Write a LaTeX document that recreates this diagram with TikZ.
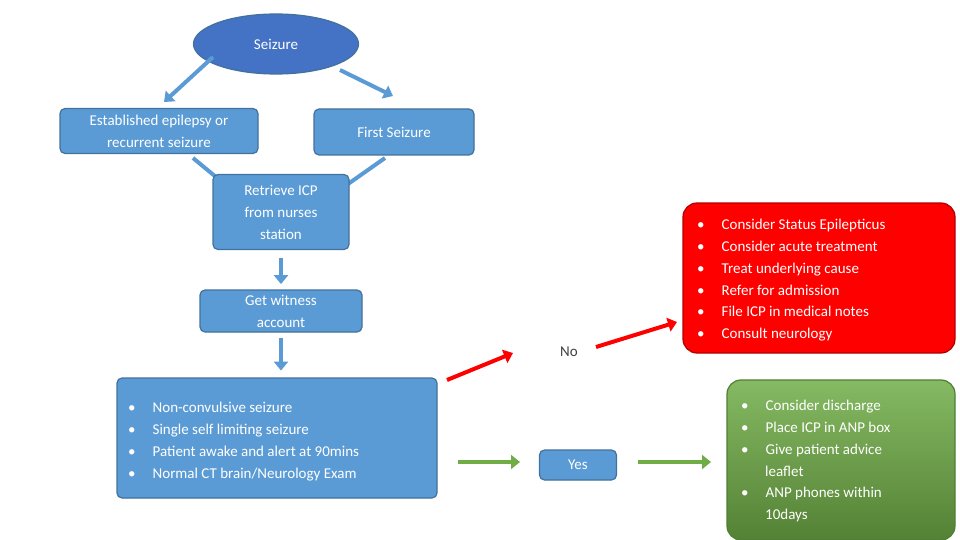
\documentclass[tikz,border=0pt]{standalone}
\usepackage{fontspec}
\setmainfont{Carlito}
\usetikzlibrary{shapes.geometric,arrows.meta}
\definecolor{bl}{HTML}{5B9BD5}
\definecolor{bld}{HTML}{41719C}
\definecolor{dk}{HTML}{4472C4}
\definecolor{gr}{HTML}{70AD47}
\definecolor{grd}{HTML}{507E32}
\begin{document}
\begin{tikzpicture}[x=1pt,y=-1pt,
 box/.style={draw=bld,line width=1.2pt,fill=bl,rounded corners=5pt,text=white,align=center,font=\fontsize{15}{22}\selectfont,inner sep=0pt},
 barr/.style={draw=bl,line width=4pt,-{Triangle[length=9pt,width=14pt]}},
 rarr/.style={draw=red,line width=4pt,-{Triangle[length=9pt,width=14pt]}},
 garr/.style={draw=gr,line width=3.5pt,-{Triangle[length=9pt,width=14pt]}},
 lst/.style={text=white,align=left,font=\fontsize{15}{21.8}\selectfont,anchor=north west,inner sep=0pt}]
\useasboundingbox (0,0) rectangle (960,540);
\node[ellipse,draw=bld,line width=1.2pt,fill=dk,text=white,minimum width=165,minimum height=60,font=\fontsize{15}{18}\selectfont] (sz) at (276,44) {Seizure};
\node[box,minimum width=198,minimum height=45] (est) at (159,131) {Established epilepsy or\\recurrent seizure};
\node[box,minimum width=160,minimum height=46] (fs) at (394,132) {First Seizure};
\draw[bl,line width=4pt] (193,158) -- (216,177);
\draw[bl,line width=4pt] (385,158) -- (348,184);
\node[box,minimum width=136,minimum height=75] (ret) at (281,212) {Retrieve ICP\\from nurses\\station};
\node[box,minimum width=162,minimum height=42] (wit) at (281,311) {Get witness\\account};
\node[box,minimum width=320,minimum height=120] (big) at (277,438) {};
\node[lst] (bl1) at (128,402) {•\hspace{17pt}Non-convulsive seizure\\•\hspace{17pt}Single self limiting seizure\\•\hspace{17pt}Patient awake and alert at 90mins\\•\hspace{17pt}Normal CT brain/Neurology Exam};
\coordinate (a1) at (213,57); \coordinate (a2) at (164,102);
\coordinate (b1) at (340,70); \coordinate (b2) at (393,96);
\draw[barr] (a1) -- (a2);
\draw[barr] (b1) -- (b2);
\draw[barr] (ret.south) ++(0,8) coordinate (c1) (c1) -- ++(0,26);
\draw[barr] (wit.south) ++(0,5) coordinate (d1) (d1) -- ++(0,33);
\node[text=black!75,font=\fontsize{15}{18}\selectfont] (no) at (569,352) {No};
\node[box,minimum width=77,minimum height=30] (yes) at (578,465) {Yes};
\node[draw=red!70!black,line width=1.2pt,fill=red,rounded corners=14pt,minimum width=272,minimum height=150] (red) at (819,278) {};
\node[lst] (rl) at (697,219) {•\hspace{17pt}Consider Status Epilepticus\\•\hspace{17pt}Consider acute treatment\\•\hspace{17pt}Treat underlying cause\\•\hspace{17pt}Refer for admission\\•\hspace{17pt}File ICP in medical notes\\•\hspace{17pt}Consult neurology};
\node[draw=grd,line width=1.2pt,top color=gr!85!white,bottom color=gr!75!black,rounded corners=14pt,minimum width=228,minimum height=160] (grn) at (841,460) {};
\node[lst] (gl) at (741,400) {•\hspace{17pt}Consider discharge\\•\hspace{17pt}Place ICP in ANP box\\•\hspace{17pt}Give patient advice\\\hspace{24pt}leaflet\\•\hspace{17pt}ANP phones within\\\hspace{24pt}10days};
\coordinate (r1) at (447,380); \coordinate (r2) at (513,353);
\coordinate (r3) at (596,347); \coordinate (r4) at (677,322);
\draw[rarr] (r1) -- (r2);
\draw[rarr] (r3) -- (r4);
\coordinate (g1) at (458,462); \coordinate (g2) at (520,462);
\coordinate (g3) at (638,462); \coordinate (g4) at (711,462);
\draw[garr] (g1) -- (g2);
\draw[garr] (g3) -- (g4);
\end{tikzpicture}
\end{document}
